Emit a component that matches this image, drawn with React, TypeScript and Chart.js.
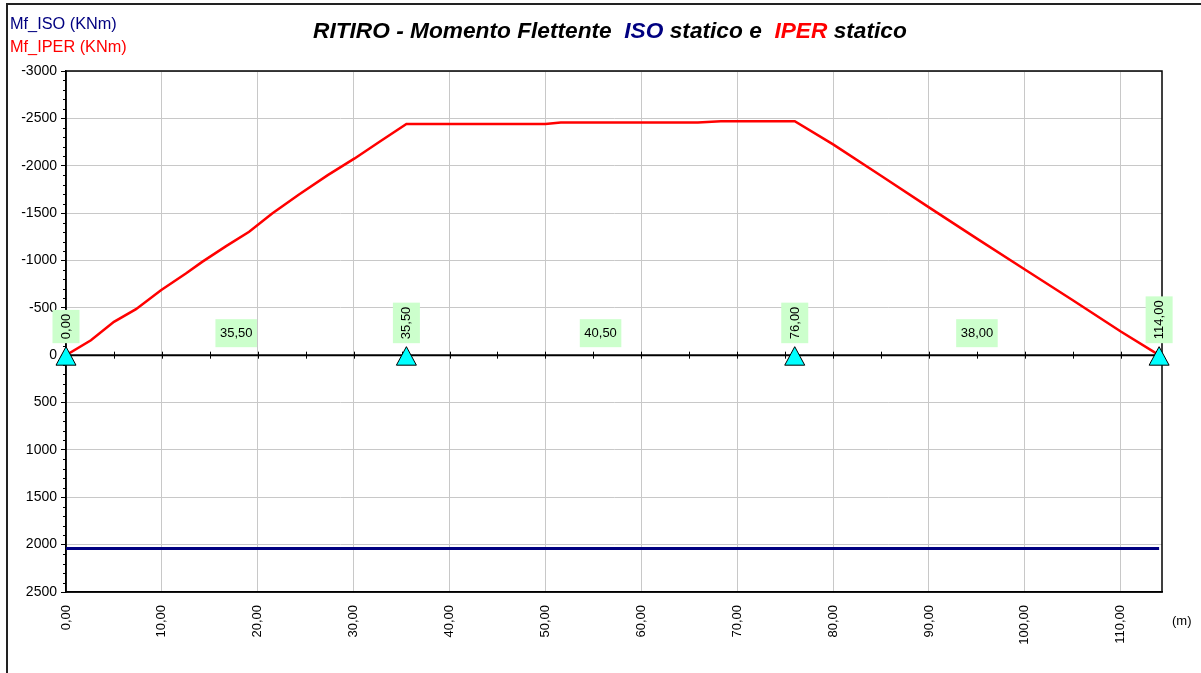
import { useEffect, useRef } from "react";
import { Chart, registerables } from "chart.js";

Chart.register(...registerables);

// ---- data ----
const supports = [0, 35.5, 76, 114];
const iperX = [0, 2.6, 5, 7.3, 9.9, 12.5, 14.2, 16.7, 19.1, 21.5, 24.3, 27.3, 30.1, 32.7, 35.5, 50, 51.6, 65.9, 68.3, 76, 80, 85, 90, 95, 100, 105, 110, 114];
const iperY = [0, -158, -352, -486, -686, -862, -985, -1151, -1302, -1496, -1697, -1901, -2077, -2253, -2440, -2440, -2456, -2456, -2470, -2470, -2225, -1895, -1560, -1230, -905, -580, -250, 0];
const isoX = [0, 114];
const isoY = [2040, 2040];
const xTicks = [0, 10, 20, 30, 40, 50, 60, 70, 80, 90, 100, 110];
const yTicks = [-3000, -2500, -2000, -1500, -1000, -500, 0, 500, 1000, 1500, 2000, 2500];
const X_MIN = 0;
const X_MAX = 114.3;
const Y_MIN = -3000;
const Y_MAX = 2500;

const FONT = '"Liberation Sans", Arial, Helvetica, sans-serif';
const fmt = (v: number) => v.toFixed(2).replace(".", ",");

const overlay = {
  id: "overlay",
  beforeDatasetsDraw(chart: any) {
    const { ctx, chartArea: a, scales } = chart;
    const x = scales.x;
    const y = scales.y;
    const y0 = y.getPixelForValue(0);
    ctx.save();
    // zero line
    ctx.strokeStyle = "#000";
    ctx.lineWidth = 2;
    ctx.beginPath();
    ctx.moveTo(a.left, y0);
    ctx.lineTo(a.right, y0);
    ctx.stroke();
    // ticks on the zero line every 5 m
    ctx.lineWidth = 1;
    ctx.beginPath();
    for (let v = 5; v < X_MAX; v += 5) {
      const px = Math.round(x.getPixelForValue(v)) + 0.5;
      ctx.moveTo(px, y0 - 3.5);
      ctx.lineTo(px, y0 + 3.5);
    }
    ctx.stroke();
    // minor ticks on y axis
    ctx.beginPath();
    for (let v = Y_MIN; v <= Y_MAX; v += 100) {
      if (v % 500 === 0) continue;
      const py = Math.round(y.getPixelForValue(v)) + 0.5;
      ctx.moveTo(a.left - 3, py);
      ctx.lineTo(a.left, py);
    }
    ctx.stroke();
    // plot frame
    ctx.lineWidth = 1.5;
    ctx.strokeRect(a.left, a.top, a.right - a.left, a.bottom - a.top);
    ctx.restore();
  },
  afterDatasetsDraw(chart: any) {
    const { ctx, scales } = chart;
    const x = scales.x;
    const y = scales.y;
    const y0 = y.getPixelForValue(0);
    ctx.save();
    ctx.font = `13px ${FONT}`;
    ctx.textAlign = "center";
    ctx.textBaseline = "middle";
    // span length labels
    for (let i = 0; i < supports.length - 1; i++) {
      const mid = (supports[i] + supports[i + 1]) / 2;
      const txt = fmt(supports[i + 1] - supports[i]);
      const px = x.getPixelForValue(mid);
      const w = ctx.measureText(txt).width + 9;
      const h = 28;
      const cy = y0 - 22;
      ctx.fillStyle = "#ccffcc";
      ctx.fillRect(px - w / 2, cy - h / 2, w, h);
      ctx.fillStyle = "#000";
      ctx.fillText(txt, px, cy + 0.5);
    }
    // support position labels (rotated)
    for (const s of supports) {
      const txt = fmt(s);
      const px = x.getPixelForValue(s);
      const tw = ctx.measureText(txt).width;
      const h = tw + 8;
      const w = 27;
      const bottom = y0 - 12;
      ctx.fillStyle = "#ccffcc";
      ctx.fillRect(px - w / 2, bottom - h, w, h);
      ctx.save();
      ctx.translate(px, bottom - h / 2);
      ctx.rotate(-Math.PI / 2);
      ctx.fillStyle = "#000";
      ctx.fillText(txt, 0, 0.5);
      ctx.restore();
    }
    // support triangles
    for (const s of supports) {
      const px = x.getPixelForValue(s);
      ctx.beginPath();
      ctx.moveTo(px, y0 - 8.5);
      ctx.lineTo(px + 10, y0 + 10);
      ctx.lineTo(px - 10, y0 + 10);
      ctx.closePath();
      ctx.fillStyle = "#00ffff";
      ctx.fill();
      ctx.strokeStyle = "#000";
      ctx.lineWidth = 1;
      ctx.stroke();
    }
    ctx.restore();
  },
};

export default function App() {
  const ref = useRef<HTMLCanvasElement>(null);
  useEffect(() => {
    Chart.defaults.font.family = FONT;
    const chart = new Chart(ref.current as HTMLCanvasElement, {
      type: "line",
      data: {
        datasets: [
          {
            label: "Mf_ISO (KNm)",
            data: isoX.map((v, i) => ({ x: v, y: isoY[i] })),
            borderColor: "#000080",
            borderWidth: 3,
            pointRadius: 0,
            tension: 0,
          },
          {
            label: "Mf_IPER (KNm)",
            data: iperX.map((v, i) => ({ x: v, y: iperY[i] })),
            borderColor: "#ff0000",
            borderWidth: 2.5,
            pointRadius: 0,
            tension: 0,
          },
        ],
      },
      options: {
        animation: false,
        responsive: false,
        devicePixelRatio: 1,
        layout: { padding: { left: 0, top: 71, right: 39, bottom: 0 } },
        plugins: { legend: { display: false }, title: { display: false }, tooltip: { enabled: false } },
        scales: {
          x: {
            type: "linear",
            min: X_MIN,
            max: X_MAX,
            afterBuildTicks: (scale: any) => {
              scale.ticks = xTicks.map((v) => ({ value: v }));
            },
            afterFit: (scale: any) => {
              scale.height = 81;
            },
            grid: { color: "#c8c8c8", lineWidth: 1, drawTicks: false },
            border: { display: true, color: "#000", width: 1.5 },
            ticks: {
              color: "#000",
              font: { size: 13, family: FONT },
              padding: 13,
              minRotation: 90,
              maxRotation: 90,
              autoSkip: false,
              callback: (v: any) => fmt(Number(v)),
            },
          },
          y: {
            type: "linear",
            reverse: true,
            min: Y_MIN,
            max: Y_MAX,
            afterBuildTicks: (scale: any) => {
              scale.ticks = yTicks.map((v) => ({ value: v }));
            },
            afterFit: (scale: any) => {
              scale.width = 66;
            },
            grid: {
              color: (c: any) => (c.tick && c.tick.value === 0 ? "rgba(0,0,0,0)" : "#c8c8c8"),
              lineWidth: 1,
              drawTicks: true,
              tickLength: 5,
              tickColor: "#000",
            },
            border: { display: true, color: "#000", width: 1.5 },
            ticks: {
              color: "#000",
              font: { size: 14, family: FONT },
              padding: 4,
              autoSkip: false,
              callback: (v: any) => String(v),
            },
          },
        },
      },
      plugins: [overlay],
    } as any);
    return () => chart.destroy();
  }, []);

  return (
    <div
      style={{
        position: "fixed",
        left: 0,
        top: 0,
        width: 1201,
        height: 673,
        overflow: "hidden",
        background: "#fff",
        fontFamily: FONT,
      }}
    >
      <div
        style={{
          position: "absolute",
          left: 6,
          top: 3,
          width: 1400,
          height: 900,
          border: "2px solid #222",
          boxSizing: "border-box",
        }}
      />
      <canvas ref={ref} width={1201} height={673} style={{ position: "absolute", left: 0, top: 0 }} />
      <div style={{ position: "absolute", left: 10, top: 15, fontSize: 16.3, lineHeight: 1, color: "#000080", whiteSpace: "pre" }}>
        Mf_ISO (KNm)
      </div>
      <div style={{ position: "absolute", left: 10, top: 38, fontSize: 16.3, lineHeight: 1, color: "#ff0000", whiteSpace: "pre" }}>
        Mf_IPER (KNm)
      </div>
      <div
        style={{
          position: "absolute",
          left: 313,
          top: 19,
          fontSize: 22.7,
          lineHeight: 1,
          fontWeight: "bold",
          fontStyle: "italic",
          color: "#000",
          whiteSpace: "pre",
        }}
      >
        {"RITIRO - Momento Flettente  "}
        <span style={{ color: "#000080" }}>ISO</span>
        {" statico e  "}
        <span style={{ color: "#ff0000" }}>IPER</span>
        {" statico"}
      </div>
      <div style={{ position: "absolute", left: 1172, top: 614, fontSize: 13, lineHeight: 1, color: "#000", whiteSpace: "pre" }}>
        (m)
      </div>
    </div>
  );
}
